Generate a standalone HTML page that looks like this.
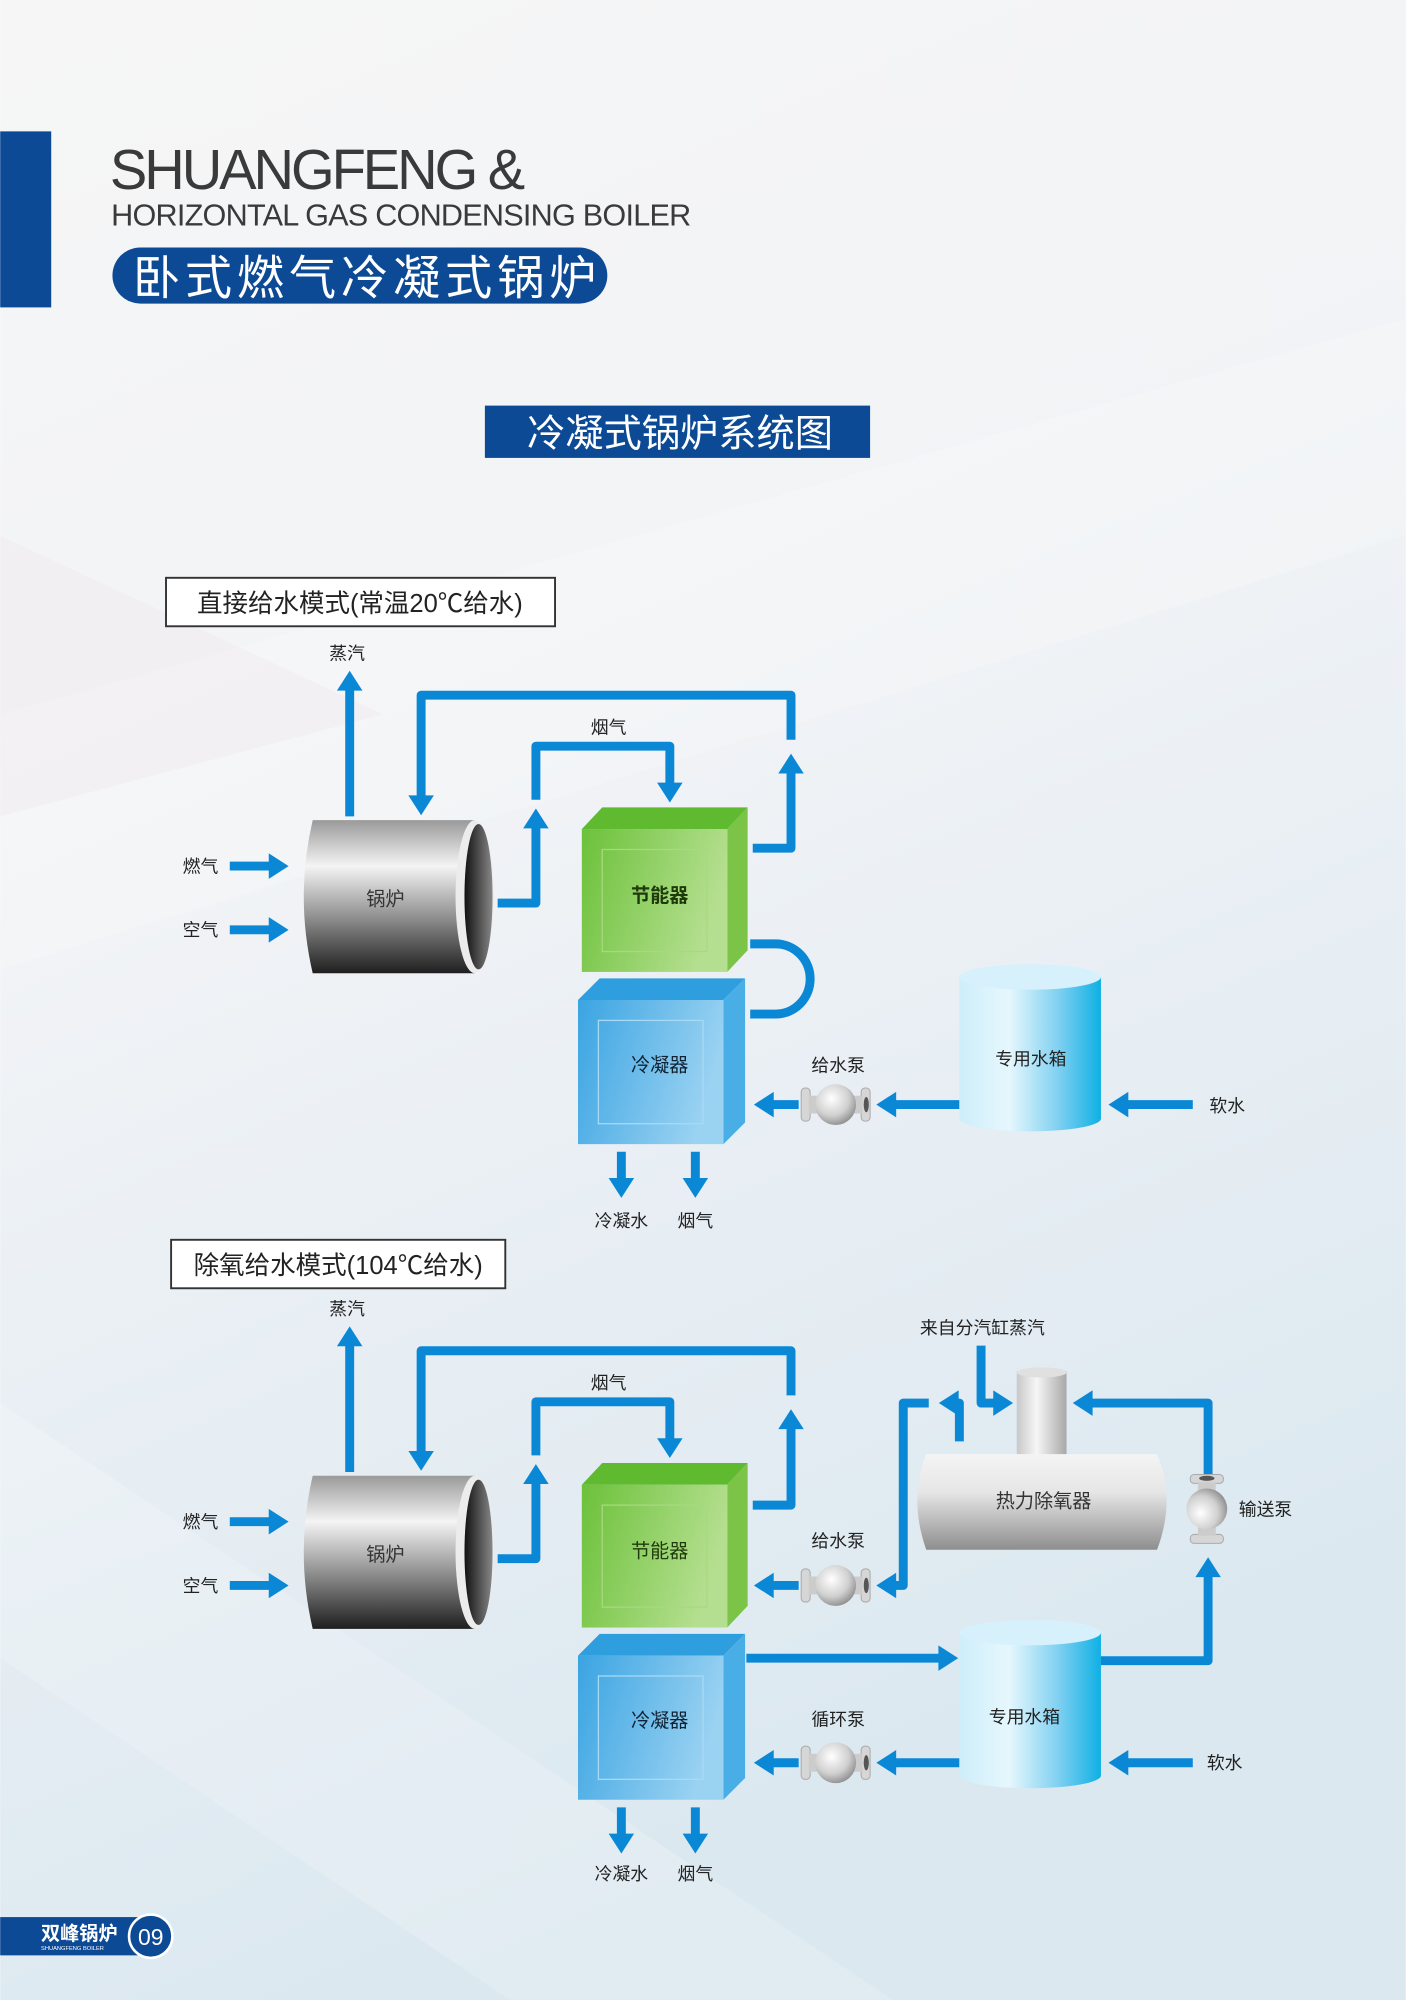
<!DOCTYPE html>
<html><head><meta charset="utf-8"><style>
html,body{margin:0;padding:0;}
body{width:1406px;height:2000px;overflow:hidden;}
svg{display:block;}
text{font-family:"Liberation Sans","Noto Sans CJK SC",sans-serif;}
</style></head><body>
<svg width="1406" height="2000" viewBox="0 0 1102 1568" xmlns="http://www.w3.org/2000/svg">
<defs>
<linearGradient id="bg" x1="0" y1="0" x2="0.3" y2="1">
<stop offset="0" stop-color="#f6f6f6"/><stop offset="0.45" stop-color="#f1f3f6"/><stop offset="1" stop-color="#dbe8f0"/></linearGradient>
<linearGradient id="boil" x1="0" y1="0" x2="0" y2="1">
<stop offset="0" stop-color="#9a9a9a"/><stop offset="0.3" stop-color="#f4f4f4"/><stop offset="0.6" stop-color="#9a9a9a"/><stop offset="1" stop-color="#1e1e1e"/></linearGradient>
<linearGradient id="boilIn" x1="0" y1="0" x2="1" y2="0">
<stop offset="0" stop-color="#111"/><stop offset="1" stop-color="#888"/></linearGradient>
<linearGradient id="gFront" x1="0" y1="0" x2="1" y2="0.3">
<stop offset="0" stop-color="#6cc13a"/><stop offset="1" stop-color="#b5df90"/></linearGradient>
<linearGradient id="bFront" x1="0" y1="0" x2="1" y2="0.3">
<stop offset="0" stop-color="#3aa4e2"/><stop offset="1" stop-color="#9ad2f2"/></linearGradient>
<linearGradient id="tank" x1="0" y1="0" x2="1" y2="0">
<stop offset="0" stop-color="#cdeefa"/><stop offset="0.35" stop-color="#e6f7fd"/><stop offset="0.7" stop-color="#7fd0f1"/><stop offset="1" stop-color="#0fb0e4"/></linearGradient>
<linearGradient id="dea" x1="0" y1="0" x2="0" y2="1">
<stop offset="0" stop-color="#f4f4f4"/><stop offset="0.4" stop-color="#e6e6e6"/><stop offset="1" stop-color="#8e8e8e"/></linearGradient>
<linearGradient id="chim" x1="0" y1="0" x2="1" y2="0">
<stop offset="0" stop-color="#c8c8c8"/><stop offset="0.4" stop-color="#f6f6f6"/><stop offset="1" stop-color="#a8a8a8"/></linearGradient>
<radialGradient id="ball" cx="0.4" cy="0.35" r="0.7">
<stop offset="0" stop-color="#ffffff"/><stop offset="0.6" stop-color="#d0d0d0"/><stop offset="1" stop-color="#8a8a8a"/></radialGradient>
<marker id="ah" markerUnits="userSpaceOnUse" markerWidth="16" markerHeight="20" viewBox="0 0 14 18" refX="4" refY="9" orient="auto">
<path d="M0,0 L14,9 L0,18 Z" fill="#0a88d6"/></marker>
<g id="pump">
<rect x="-27" y="-13" width="7" height="26" rx="3" fill="#d6d6d6" stroke="#aaa" stroke-width="0.8"/>
<rect x="20" y="-13" width="7" height="26" rx="3" fill="#d6d6d6" stroke="#aaa" stroke-width="0.8"/>
<rect x="-21" y="-7" width="42" height="14" fill="#ccc"/>
<circle r="16" fill="url(#ball)"/>
<ellipse cx="24" cy="0" rx="2" ry="6" fill="#555"/>
</g>
</defs>
<rect width="1102" height="1568" fill="url(#bg)"/>
<polygon points="0,560 1102,250 1102,420 0,760" fill="#ffffff" opacity="0.18"/>
<polygon points="0,1100 700,1568 400,1568 0,1300" fill="#ffffff" opacity="0.18"/>
<polygon points="0,420 300,560 0,640" fill="#f3e4ec" opacity="0.3"/>

<!-- header -->
<rect x="0" y="103" width="40" height="138" fill="#0d4a96"/>
<text x="86" y="148" font-size="44" fill="#3a3a3a" letter-spacing="-2.4">SHUANGFENG &amp;</text>
<text x="87" y="177" font-size="24" fill="#3a3a3a" letter-spacing="-0.6">HORIZONTAL GAS CONDENSING BOILER</text>
<rect x="88" y="194" width="388" height="44" rx="22" fill="#0d4a96"/>
<text x="104" y="231" font-size="37" fill="#fff" letter-spacing="3.8">卧式燃气冷凝式锅炉</text>
<rect x="380" y="318" width="302" height="41" fill="#0d4a96"/>
<text x="533" y="350" font-size="30" fill="#fff" text-anchor="middle">冷凝式锅炉系统图</text>

<!-- ===== Diagram 1 ===== -->
<rect x="130" y="453" width="305" height="38" fill="#fff" stroke="#333" stroke-width="1.5"/>
<text x="282" y="480" font-size="20" fill="#222" text-anchor="middle">直接给水模式(常温20℃给水)</text>

<g fill="none" stroke="#0a88d6" stroke-width="7" stroke-linejoin="round">
<path d="M274,640 V537" marker-end="url(#ah)"/>
<path d="M620,580 V545 H330 V628" marker-end="url(#ah)"/>
<path d="M590,665 H620 V602" marker-end="url(#ah)"/>
<path d="M390,708 H420 V645" marker-end="url(#ah)"/>
<path d="M420,627 V585 H525 V618" marker-end="url(#ah)"/>
<path d="M588,740 H608 A27,27.5 0 0 1 608,795 H588"/>
<path d="M487,903 V928" marker-end="url(#ah)"/>
<path d="M545,903 V928" marker-end="url(#ah)"/>
<path d="M626,866 H602" marker-end="url(#ah)"/>
<path d="M752,866 H698" marker-end="url(#ah)"/>
<path d="M935,866 H880" marker-end="url(#ah)"/>
<path d="M180,679 H215" marker-end="url(#ah)"/>
<path d="M180,729 H215" marker-end="url(#ah)"/>
</g>
<text x="272" y="517" font-size="14" fill="#222" text-anchor="middle">蒸汽</text>
<text x="477" y="575" font-size="14" fill="#222" text-anchor="middle">烟气</text>
<text x="157" y="684" font-size="14" fill="#222" text-anchor="middle">燃气</text>
<text x="157" y="734" font-size="14" fill="#222" text-anchor="middle">空气</text>

<path d="M245,643 Q231,703 245,763 H372 V643 Z" fill="url(#boil)"/>
<ellipse cx="372" cy="703" rx="15" ry="60" fill="#ececec"/>
<ellipse cx="375" cy="703" rx="11" ry="57" fill="url(#boilIn)"/>
<text x="302" y="710" font-size="15" fill="#333" text-anchor="middle">锅炉</text>

<polygon points="456,650 472,633 586,633 570,650" fill="#5fba2f"/>
<polygon points="570,650 586,633 586,745 570,762" fill="#7cc447"/>
<rect x="456" y="650" width="114" height="112" fill="url(#gFront)"/>
<rect x="472" y="666" width="82" height="80" fill="none" stroke="#a8d880" stroke-width="1"/>
<text x="517" y="707" font-size="15" fill="#1f3a0a" text-anchor="middle" font-weight="bold">节能器</text>

<polygon points="453,784 470,767 584,767 567,784" fill="#2e9ede"/>
<polygon points="567,784 584,767 584,880 567,897" fill="#4aaee6"/>
<rect x="453" y="784" width="114" height="113" fill="url(#bFront)"/>
<rect x="469" y="800" width="82" height="81" fill="none" stroke="#a9daf5" stroke-width="1"/>
<text x="517" y="840" font-size="15" fill="#123" text-anchor="middle">冷凝器</text>
<text x="487" y="962" font-size="14" fill="#222" text-anchor="middle">冷凝水</text>
<text x="545" y="962" font-size="14" fill="#222" text-anchor="middle">烟气</text>

<use href="#pump" x="655" y="866"/>
<text x="657" y="840" font-size="14" fill="#222" text-anchor="middle">给水泵</text>

<rect x="752" y="766" width="111" height="111" fill="url(#tank)"/>
<ellipse cx="807.5" cy="877" rx="55.5" ry="10" fill="url(#tank)"/>
<ellipse cx="807.5" cy="766" rx="55.5" ry="10" fill="#d6f1fb"/>
<text x="808" y="835" font-size="14" fill="#222" text-anchor="middle">专用水箱</text>
<text x="962" y="872" font-size="14" fill="#222" text-anchor="middle">软水</text>

<!-- ===== Diagram 2 ===== -->
<rect x="134" y="972" width="262" height="38" fill="#fff" stroke="#333" stroke-width="1.5"/>
<text x="265" y="999" font-size="20" fill="#222" text-anchor="middle">除氧给水模式(104℃给水)</text>

<g fill="none" stroke="#0a88d6" stroke-width="7" stroke-linejoin="round">
<path d="M274,1154 V1051" marker-end="url(#ah)"/>
<path d="M620,1094 V1059 H330 V1142" marker-end="url(#ah)"/>
<path d="M590,1180 H620 V1116" marker-end="url(#ah)"/>
<path d="M390,1222 H420 V1159" marker-end="url(#ah)"/>
<path d="M420,1141 V1099 H525 V1132" marker-end="url(#ah)"/>
<path d="M487,1417 V1442" marker-end="url(#ah)"/>
<path d="M545,1417 V1442" marker-end="url(#ah)"/>
<path d="M180,1193 H215" marker-end="url(#ah)"/>
<path d="M180,1243 H215" marker-end="url(#ah)"/>
<path d="M626,1243 H602" marker-end="url(#ah)"/>
<path d="M752,1130 V1100 H747" marker-end="url(#ah)"/>
<path d="M728,1100 H708 V1243 H698" marker-end="url(#ah)"/>
<path d="M769,1055 V1100 H783" marker-end="url(#ah)"/>
<path d="M947,1165 V1100 H852" marker-end="url(#ah)"/>
<path d="M863,1302 H947 V1232" marker-end="url(#ah)"/>
<path d="M585,1300 H740" marker-end="url(#ah)"/>
<path d="M626,1382 H602" marker-end="url(#ah)"/>
<path d="M752,1382 H698" marker-end="url(#ah)"/>
<path d="M935,1382 H880" marker-end="url(#ah)"/>
</g>
<text x="272" y="1031" font-size="14" fill="#222" text-anchor="middle">蒸汽</text>
<text x="477" y="1089" font-size="14" fill="#222" text-anchor="middle">烟气</text>
<text x="157" y="1198" font-size="14" fill="#222" text-anchor="middle">燃气</text>
<text x="157" y="1248" font-size="14" fill="#222" text-anchor="middle">空气</text>

<path d="M245,1157 Q231,1217 245,1277 H372 V1157 Z" fill="url(#boil)"/>
<ellipse cx="372" cy="1217" rx="15" ry="60" fill="#ececec"/>
<ellipse cx="375" cy="1217" rx="11" ry="57" fill="url(#boilIn)"/>
<text x="302" y="1224" font-size="15" fill="#333" text-anchor="middle">锅炉</text>

<polygon points="456,1164 472,1147 586,1147 570,1164" fill="#5fba2f"/>
<polygon points="570,1164 586,1147 586,1259 570,1276" fill="#7cc447"/>
<rect x="456" y="1164" width="114" height="112" fill="url(#gFront)"/>
<rect x="472" y="1180" width="82" height="80" fill="none" stroke="#a8d880" stroke-width="1"/>
<text x="517" y="1221" font-size="15" fill="#1f3a0a" text-anchor="middle">节能器</text>

<polygon points="453,1298 470,1281 584,1281 567,1298" fill="#2e9ede"/>
<polygon points="567,1298 584,1281 584,1394 567,1411" fill="#4aaee6"/>
<rect x="453" y="1298" width="114" height="113" fill="url(#bFront)"/>
<rect x="469" y="1314" width="82" height="81" fill="none" stroke="#a9daf5" stroke-width="1"/>
<text x="517" y="1354" font-size="15" fill="#123" text-anchor="middle">冷凝器</text>
<text x="487" y="1474" font-size="14" fill="#222" text-anchor="middle">冷凝水</text>
<text x="545" y="1474" font-size="14" fill="#222" text-anchor="middle">烟气</text>

<use href="#pump" x="655" y="1243"/>
<text x="657" y="1213" font-size="14" fill="#222" text-anchor="middle">给水泵</text>
<use href="#pump" x="655" y="1382"/>
<text x="657" y="1353" font-size="14" fill="#222" text-anchor="middle">循环泵</text>
<use href="#pump" transform="translate(946,1183) rotate(-90)"/>
<text x="992" y="1188" font-size="14" fill="#222" text-anchor="middle">输送泵</text>

<rect x="797" y="1075" width="39" height="68" fill="url(#chim)"/>
<ellipse cx="816.5" cy="1076" rx="19.5" ry="4" fill="#e0e0e0"/>
<path d="M726,1140 H907 Q922,1175 907,1215 H726 Q712,1175 726,1140 Z" fill="url(#dea)"/>
<text x="818" y="1182" font-size="15" fill="#333" text-anchor="middle">热力除氧器</text>
<text x="770" y="1046" font-size="14" fill="#222" text-anchor="middle">来自分汽缸蒸汽</text>

<rect x="752" y="1280" width="111" height="112" fill="url(#tank)"/>
<ellipse cx="807.5" cy="1392" rx="55.5" ry="10" fill="url(#tank)"/>
<ellipse cx="807.5" cy="1280" rx="55.5" ry="10" fill="#d6f1fb"/>
<text x="803" y="1351" font-size="14" fill="#222" text-anchor="middle">专用水箱</text>
<text x="960" y="1387" font-size="14" fill="#222" text-anchor="middle">软水</text>

<!-- footer -->
<rect x="0" y="1503" width="108" height="30" fill="#0d4a96"/>
<circle cx="118" cy="1518" r="17" fill="#0d4a96" stroke="#fff" stroke-width="2"/>
<text x="118" y="1525" font-size="18" fill="#fff" text-anchor="middle">09</text>
<text x="32" y="1521" font-size="15" fill="#fff" font-weight="bold">双峰锅炉</text>
<text x="32" y="1529" font-size="4.5" fill="#fff">SHUANGFENG BOILER</text>
</svg>
</body></html>
